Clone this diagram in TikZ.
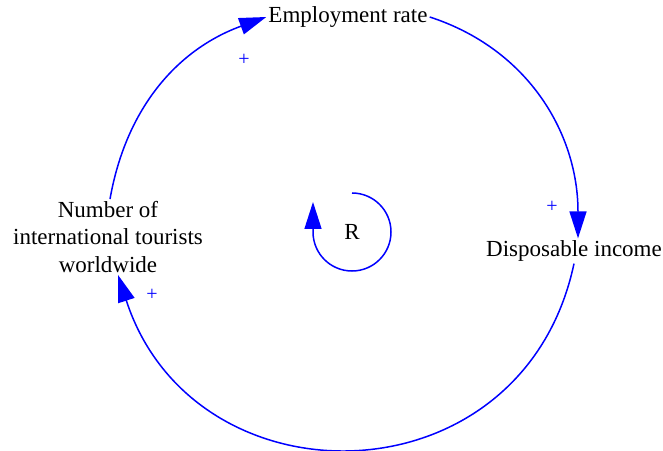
\documentclass[tikz,border=0pt]{standalone}
\usepackage{fontspec}
\setmainfont{Liberation Serif}
\usetikzlibrary{arrows.meta}
\definecolor{linkblue}{HTML}{0000FF}

\begin{document}
\begin{tikzpicture}[x=1pt,y=1pt,
    var/.style={inner sep=2pt,align=center,font=\fontsize{23}{27.5}\selectfont},
    link/.style={linkblue,line width=1.5pt,-{Triangle[length=27pt,width=17pt]}},
    polarity/.style={linkblue,inner sep=0pt,font=\fontsize{20}{20}\selectfont}]
  \useasboundingbox (0,0) rectangle (663,450);
  \node[var] (emp) at (348,433) {Employment rate};
  \node[var] (disp) at (574,199) {Disposable income};
  \node[var] (num) at (108,213) {Number of\\international tourists\\worldwide};
  \node[var] (loopR) at (352,218) {R};
  \draw[link] ([xshift=2pt]num.north) to[out=80,in=200] (emp.west);
  \draw[link] (emp.east) to[out=-18,in=90] ([xshift=4pt]disp.north);
  \draw[link] (disp.south) to[out=-102,in=-72,looseness=1.38] ([xshift=10pt]num.south);
  \draw[link] ([yshift=39pt]loopR.center) arc[start angle=90,end angle=-180,radius=39] -- ++(0,30);
  \node[polarity] (p1) at (244,390) {+};
  \node[polarity] (p2) at (552,243) {+};
  \node[polarity] (p3) at (152,155) {+};
\end{tikzpicture}
\end{document}
